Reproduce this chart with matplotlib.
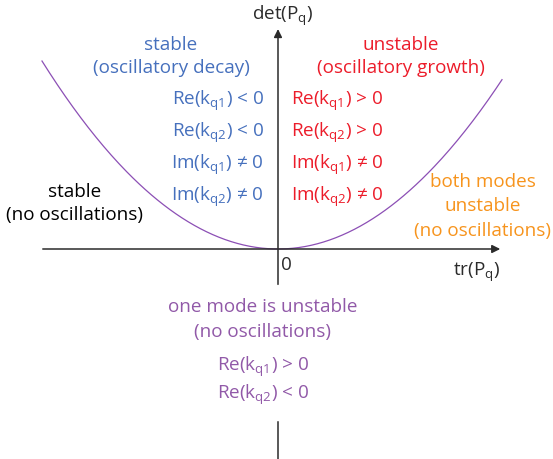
import numpy as np
import matplotlib.pyplot as plt

plt.rcParams['font.family'] = ['Open Sans', 'DejaVu Sans']
plt.rcParams['mathtext.fontset'] = 'custom'
plt.rcParams['mathtext.rm'] = 'Open Sans'
plt.rcParams['mathtext.it'] = 'Open Sans'

# region labels
blue_head = ['stable', '(oscillatory decay)']
blue_rows = [r'Re(k$_{\mathrm{q1}}$) < 0', r'Re(k$_{\mathrm{q2}}$) < 0',
             r'Im(k$_{\mathrm{q1}}$) ≠ 0', r'Im(k$_{\mathrm{q2}}$) ≠ 0']
red_head = ['unstable', '(oscillatory growth)']
red_rows = [r'Re(k$_{\mathrm{q1}}$) > 0', r'Re(k$_{\mathrm{q2}}$) > 0',
            r'Im(k$_{\mathrm{q1}}$) ≠ 0', r'Im(k$_{\mathrm{q2}}$) ≠ 0']
black_lines = ['stable', '(no oscillations)']
orange_lines = ['both modes', 'unstable', '(no oscillations)']
purple_head = ['one mode is unstable', '(no oscillations)']
purple_rows = [r'Re(k$_{\mathrm{q1}}$) > 0', r'Re(k$_{\mathrm{q2}}$) < 0']

# parabola det = tr^2 / 4 between these traces
tr_min, tr_max = -4.72, 4.48

c_blue = '#4670bd'
c_red = '#ec1c2a'
c_orange = '#f7941d'
c_purple = '#9159a8'
c_curve = '#8c4fb5'
c_axis = '#2b2b2b'

W, H = 553, 460
fig = plt.figure(figsize=(W / 100, H / 100), dpi=100)
ax = fig.add_axes([0, 0, 1, 1])
ax.set_xlim(-278 / 50, (W - 278) / 50)
ax.set_ylim(-(H - 250) / 33.75, 250 / 33.75)
ax.axis('off')

tr = np.linspace(tr_min, tr_max, 300)
ax.plot(tr, tr ** 2 / 4, color=c_curve, lw=0.9)

# axes
ax.annotate('', xy=(4.50, 0), xytext=(-4.76, 0),
            arrowprops=dict(arrowstyle='-|>', color=c_axis, lw=1.1, mutation_scale=12))
ax.annotate('', xy=(0, 6.6), xytext=(0, -1.13),
            arrowprops=dict(arrowstyle='-|>', color=c_axis, lw=1.1, mutation_scale=12))
ax.plot([0, 0], [-5.13, -6.3], color=c_axis, lw=1.1)


def put(x, y, s, color, ha='center', size=13.6):
    fig.text(x / W, 1 - y / H, s, color=color, ha=ha, va='center', fontsize=size)


put(283, 16, r'det(P$_{\mathrm{q}}$)', c_axis)
put(476, 272, r'tr(P$_{\mathrm{q}}$)', c_axis)
put(281, 265, '0', c_axis, ha='left')

for i, s in enumerate(blue_head):
    put(171, 45 + 23 * i, s, c_blue)
for i, s in enumerate(blue_rows):
    put(264, 101 + 32 * i, s, c_blue, ha='right')

for i, s in enumerate(red_head):
    put(401, 45 + 23 * i, s, c_red)
for i, s in enumerate(red_rows):
    put(291, 101 + 32 * i, s, c_red, ha='left')

for i, s in enumerate(black_lines):
    put(75, 192 + 23 * i, s, 'black')

for i, s in enumerate(orange_lines):
    put(483, 182 + 24.5 * i, s, c_orange)

for i, s in enumerate(purple_head):
    put(263, 307 + 25 * i, s, c_purple)
for i, s in enumerate(purple_rows):
    put(263, 367 + 28 * i, s, c_purple)

fig.savefig('out.png', dpi=100)
